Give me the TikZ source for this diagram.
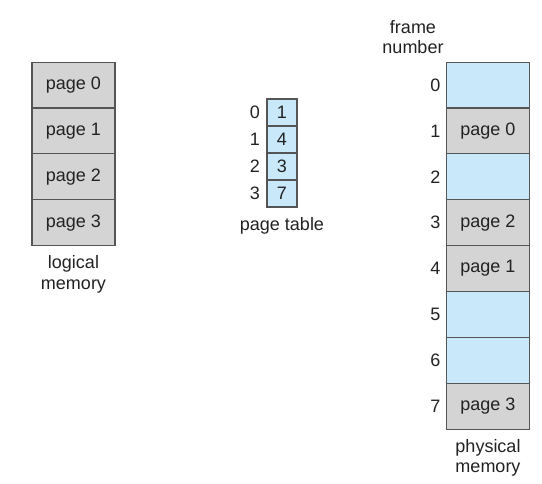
\documentclass[tikz,border=0pt]{standalone}
\usepackage{fontspec}
\setmainfont{Liberation Sans}
\usepackage{tikz}
\usetikzlibrary{positioning}
\definecolor{cellgray}{HTML}{D4D4D4}
\definecolor{cellblue}{HTML}{C9E9FB}
\definecolor{cellline}{HTML}{555555}
\definecolor{inktext}{HTML}{222222}
\tikzset{
  % memory cell: page in use (gray) or free frame (blue)
  memcell/.style={draw=cellline, rectangle, line width=1.1pt, outer sep=0pt,
                  minimum width=83pt, minimum height=45.9pt, inner sep=0pt,
                  text=inktext, font=\fontsize{18}{20}\selectfont},
  pagecell/.style={memcell, fill=cellgray},
  freecell/.style={memcell, fill=cellblue},
  % page table entry
  ptcell/.style={memcell, fill=cellblue, minimum width=30pt, minimum height=27pt},
  % index numbers and captions
  idx/.style={text=inktext, inner sep=0pt, font=\fontsize{18}{20}\selectfont},
  caption/.style={text=inktext, align=center, inner sep=0pt, font=\fontsize{18}{20.5}\selectfont}
}
\begin{document}
\begin{tikzpicture}[x=1pt, y=-1pt]
\useasboundingbox (0,0) rectangle (542,483);

% ============== LOGICAL MEMORY ==============
\node[pagecell] (lm0) at (73.5,85) {page 0};
\node[pagecell, below=0pt of lm0] (lm1) {page 1};
\node[pagecell, below=0pt of lm1] (lm2) {page 2};
\node[pagecell, below=0pt of lm2] (lm3) {page 3};
\node[caption, below=10pt of lm3] (lmcap) {logical\\memory};

% ============== PAGE TABLE ==============
\node[ptcell] (pt0) at (282,112.5) {1};
\node[ptcell, below=0pt of pt0] (pt1) {4};
\node[ptcell, below=0pt of pt1] (pt2) {3};
\node[ptcell, below=0pt of pt2] (pt3) {7};
\node[idx, left=7pt of pt0] (pi0) {0};
\node[idx, left=7pt of pt1] (pi1) {1};
\node[idx, left=7pt of pt2] (pi2) {2};
\node[idx, left=7pt of pt3] (pi3) {3};
\node[caption, below=10pt of pt3] (ptcap) {page table};

% ============== PHYSICAL MEMORY ==============
\node[freecell] (pm0) at (488,85) {};
\node[pagecell, below=0pt of pm0] (pm1) {page 0};
\node[freecell, below=0pt of pm1] (pm2) {};
\node[pagecell, below=0pt of pm2] (pm3) {page 2};
\node[pagecell, below=0pt of pm3] (pm4) {page 1};
\node[freecell, below=0pt of pm4] (pm5) {};
\node[freecell, below=0pt of pm5] (pm6) {};
\node[pagecell, below=0pt of pm6] (pm7) {page 3};
\foreach \i in {0,...,7}
  \node[idx, left=6pt of pm\i] (fn\i) {\i};
\node[caption] (fncap) at (413,37) {frame\\number};
\node[caption, below=10pt of pm7] (pmcap) {physical\\memory};

\end{tikzpicture}
\end{document}
